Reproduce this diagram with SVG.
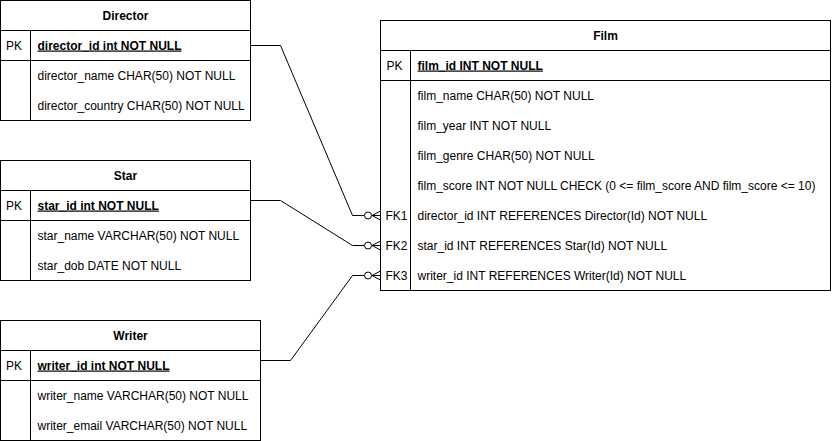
<svg xmlns="http://www.w3.org/2000/svg" width="832" height="441" viewBox="0 0 832 441">
<style>
.box{fill:#fff;stroke:#000;stroke-width:1}
.ln{stroke:#000;stroke-width:1;fill:none}
.t{font-family:"Liberation Sans",Arial,Helvetica,sans-serif;font-size:12px;fill:#000}
.title{font-weight:bold;text-anchor:middle}
.pkf{font-weight:bold;text-decoration:underline}
.edge{fill:none;stroke:#000;stroke-width:1}
</style>
<defs>
<g id="zeroMany">
<circle cx="-12.5" cy="0" r="3.5" fill="#fff" stroke="#000" stroke-width="1"/>
<path d="M-8.5,0 L0,-4.5 M-8.5,0 L0,0 M-8.5,0 L0,4.5" fill="none" stroke="#000" stroke-width="1"/>
</g>
</defs>
<rect width="832" height="441" fill="#fff"/>

<g id="connectors">
<path class="edge" d="M250.5,45.5 L280.5,45.5 L352.5,215.5 L364.5,215.5"/>
<use href="#zeroMany" transform="translate(380.5,215.5)"/>
<path class="edge" d="M250.5,200.5 L280.5,200.5 L352.5,245.5 L364.5,245.5"/>
<use href="#zeroMany" transform="translate(380.5,245.5)"/>
<path class="edge" d="M260.5,360.5 L290.5,360.5 L352.5,275.5 L364.5,275.5"/>
<use href="#zeroMany" transform="translate(380.5,275.5)"/>
</g>

<g id="director">
<rect class="box" x="0.5" y="0.5" width="250" height="120"/>
<path class="ln" d="M0.5,30.5H250.5M0.5,60.5H250.5M30.5,30.5V120.5"/>
<text class="t title" x="125.5" y="19.5">Director</text>
<text class="t" x="6" y="49.5">PK</text>
<text class="t pkf" x="37.5" y="49.5">director_id int NOT NULL</text>
<text class="t" x="37.5" y="79.5">director_name CHAR(50) NOT NULL</text>
<text class="t" x="37.5" y="109.5">director_country CHAR(50) NOT NULL</text>
</g>

<g id="star">
<rect class="box" x="0.5" y="160.5" width="250" height="120"/>
<path class="ln" d="M0.5,190.5H250.5M0.5,220.5H250.5M30.5,190.5V280.5"/>
<text class="t title" x="125.5" y="179.5">Star</text>
<text class="t" x="6" y="209.5">PK</text>
<text class="t pkf" x="37.5" y="209.5">star_id int NOT NULL</text>
<text class="t" x="37.5" y="239.5">star_name VARCHAR(50) NOT NULL</text>
<text class="t" x="37.5" y="269.5">star_dob DATE NOT NULL</text>
</g>

<g id="writer">
<rect class="box" x="0.5" y="320.5" width="260" height="120"/>
<path class="ln" d="M0.5,350.5H260.5M0.5,380.5H260.5M30.5,350.5V440.5"/>
<text class="t title" x="130.5" y="339.5">Writer</text>
<text class="t" x="6" y="369.5">PK</text>
<text class="t pkf" x="37.5" y="369.5">writer_id int NOT NULL</text>
<text class="t" x="37.5" y="399.5">writer_name VARCHAR(50) NOT NULL</text>
<text class="t" x="37.5" y="429.5">writer_email VARCHAR(50) NOT NULL</text>
</g>

<g id="film">
<rect class="box" x="380.5" y="20.5" width="450" height="270"/>
<path class="ln" d="M380.5,50.5H830.5M380.5,80.5H830.5M410.5,50.5V290.5"/>
<text class="t title" x="605.5" y="39.5">Film</text>
<text class="t" x="386.5" y="69.5">PK</text>
<text class="t pkf" x="417.5" y="69.5">film_id INT NOT NULL</text>
<text class="t" x="417.5" y="99.5">film_name CHAR(50) NOT NULL</text>
<text class="t" x="417.5" y="129.5">film_year INT NOT NULL</text>
<text class="t" x="417.5" y="159.5">film_genre CHAR(50) NOT NULL</text>
<text class="t" x="417.5" y="189.5">film_score INT NOT NULL CHECK (0 &lt;= film_score AND film_score &lt;= 10)</text>
<text class="t" x="385.5" y="219.5">FK1</text>
<text class="t" x="417.5" y="219.5">director_id INT REFERENCES Director(Id) NOT NULL</text>
<text class="t" x="385.5" y="249.5">FK2</text>
<text class="t" x="417.5" y="249.5">star_id INT REFERENCES Star(Id) NOT NULL</text>
<text class="t" x="385.5" y="279.5">FK3</text>
<text class="t" x="417.5" y="279.5">writer_id INT REFERENCES Writer(Id) NOT NULL</text>
</g>
</svg>
